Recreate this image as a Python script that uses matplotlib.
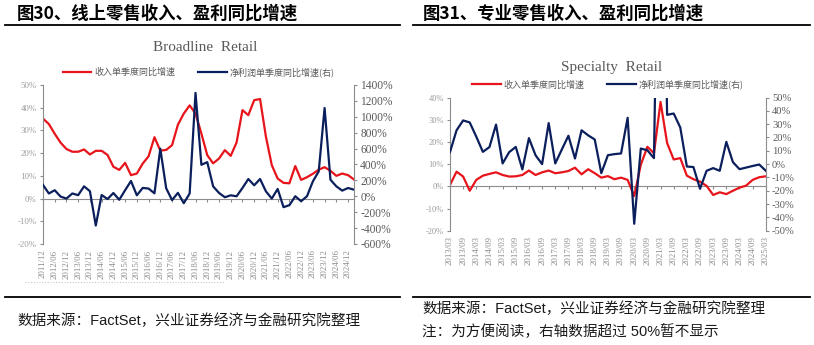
import numpy as np
import matplotlib.pyplot as plt
from matplotlib.lines import Line2D

plt.rcParams['font.family'] = ['Noto Sans CJK SC', 'DejaVu Sans']

# Broadline Retail, quarterly 2011/12 .. 2025/03 (%)
bl_rev = [35.2, 32.8, 28.5, 24.6, 21.8, 20.6, 20.6, 21.6, 19.4, 21.0,
          21.0, 19.2, 14.0, 12.6, 15.7, 10.3, 11.0, 15.4, 18.6, 27.0,
          21.1, 21.4, 23.5, 32.5, 37.4, 41.0, 37.4, 28.6, 19.1, 15.5,
          17.6, 21.3, 18.8, 24.7, 38.9, 36.7, 43.3, 43.8, 27.2, 14.7,
          8.8, 6.9, 6.7, 14.3, 8.2, 9.4, 10.9, 12.7, 13.8, 12.2,
          10.0, 11.0, 10.3, 8.4]
bl_profit = [143, 35, 76, -4, -29, 35, 14, 125, 64, -368,
             16, -35, 41, -44, 76, 192, 12, 105, 97, 37,
             598, 101, -48, 43, -87, 35, 1300, 396, 429, 125,
             42, -12, 12, 0, 104, 217, 138, 217, 62, -29,
             92, -137, -112, 0, -62, 0, 187, 313, 1110, 208,
             125, 71, 104, 83]
bl_labels = ['2011/12', '2012/06', '2012/12', '2013/06', '2013/12', '2014/06',
             '2014/12', '2015/06', '2015/12', '2016/06', '2016/12', '2017/06',
             '2017/12', '2018/06', '2018/12', '2019/06', '2019/12', '2020/06',
             '2020/12', '2021/06', '2021/12', '2022/06', '2022/12', '2023/06',
             '2023/12', '2024/06', '2024/12']

# Specialty Retail, quarterly 2013/03 .. 2025/03 (%)
sp_rev = [0.6, 6.6, 4.4, -2.0, 2.9, 4.8, 5.6, 6.3, 5.1, 4.4,
          4.5, 5.1, 7.1, 5.1, 6.3, 7.1, 5.9, 6.3, 6.9, 8.4,
          5.4, 7.7, 5.9, 3.9, 4.6, 3.2, 3.9, 2.9, -4.4, 9.7,
          17.8, 14.9, 38.0, 19.5, 12.1, 12.7, 4.8, 3.2, 2.1, 0.2,
          -3.9, -2.7, -3.5, -2.0, -0.6, 0.3, 2.9, 4.1, 4.5]
sp_profit = [9, 25.4, 32.8, 31.3, 20.6, 9.2, 12.8, 29.7, 0.5, 9,
             12.9, -4, 19.5, 6.7, 0, 30.8, 0.5, 11, 21.3, 4.2,
             25.4, 21.6, 18.5, -6.8, 6.7, 7.5, 8, 34.8, -44.8, 11.7,
             10.4, 4.5, 300, 37, 38, 27.5, -1.8, -2.2, -18.5, -5,
             -3, -5, 16.7, 1.5, -3.8, -2.6, -1.4, -0.3, -5]
sp_labels = ['2013/03', '2013/09', '2014/03', '2014/09', '2015/03', '2015/09',
             '2016/03', '2016/09', '2017/03', '2017/09', '2018/03', '2018/09',
             '2019/03', '2019/09', '2020/03', '2020/09', '2021/03', '2021/09',
             '2022/03', '2022/09', '2023/03', '2023/09', '2024/03', '2024/09',
             '2025/03']

RED = '#E8141B'
BLUE = '#0B1F5C'
AXIS = '#8C8C8C'
SERIF = 'Liberation Serif'
leg_labels = ['收入单季度同比增速', '净利润单季度同比增速(右)']


def draw(rect, rev, prof, labels, ylim, yticks, y2lim, y2ticks, lfs, rfs):
    ax = fig.add_axes(rect)
    ax2 = ax.twinx()
    x = np.arange(len(rev))
    l1, = ax.plot(x, rev, color=RED, lw=1.6)
    l2, = ax2.plot(x, prof, color=BLUE, lw=1.6)
    ax.set_xlim(0, len(rev) - 1)
    ax.set_ylim(*ylim)
    ax2.set_ylim(*y2lim)
    ax.set_yticks(yticks)
    ax.set_yticklabels([f'{v}%' for v in yticks], fontsize=lfs,
                       family=SERIF, color='#9A9A9A')
    ax2.set_yticks(y2ticks)
    ax2.set_yticklabels([f'{v}%' for v in y2ticks], fontsize=rfs,
                        family=SERIF, color='#5A5A5A')
    ax.set_xticks(x[::2][:len(labels)])
    ax.set_xticklabels(labels, rotation=90, fontsize=6.3, family=SERIF,
                       color='#8A8A8A')
    ax.tick_params(axis='x', length=0, pad=4)
    ax.tick_params(axis='y', length=2.5, color=AXIS, pad=2)
    ax2.tick_params(axis='y', length=2.5, color=AXIS, pad=2)
    for s in ['top', 'right', 'bottom']:
        ax.spines[s].set_visible(False)
    for s in ['top', 'left', 'bottom']:
        ax2.spines[s].set_visible(False)
    ax.spines['left'].set_color(AXIS)
    ax2.spines['right'].set_color(AXIS)
    # category axis crossing at 0
    sec = ax.secondary_xaxis(0, transform=ax.transData)
    sec.set_xticks(x[::2])
    sec.tick_params(axis='x', length=2.5, color=AXIS, labelbottom=False)
    sec.spines['bottom'].set_color(AXIS)
    ax.legend([l1, l2], leg_labels, ncol=2, loc='lower center',
              bbox_to_anchor=(0.5, 1.0), frameon=False, fontsize=6.5,
              labelcolor='#595959', handlelength=3.2, columnspacing=2.5,
              handletextpad=0.3, borderaxespad=0.5)
    return ax


fig = plt.figure(figsize=(8.14, 3.45), dpi=100)

# headings and rules
fig.text(0.021, 0.962, '图30、线上零售收入、盈利同比增速', fontsize=12.5,
         fontweight='bold', va='center', ha='left')
fig.text(0.519, 0.962, '图31、专业零售收入、盈利同比增速', fontsize=12.5,
         fontweight='bold', va='center', ha='left')
for x0, x1 in [(0.006, 0.492), (0.507, 0.995)]:
    fig.add_artist(Line2D([x0, x1], [0.927, 0.927], color='black', lw=1.3))
    fig.add_artist(Line2D([x0, x1], [0.139, 0.139], color='black', lw=1.3))
fig.add_artist(Line2D([0.031, 0.277], [0.183, 0.183], color='#C8C8C8',
                      lw=0.8, ls=(0, (1, 1.5))))

fig.text(0.252, 0.861, 'Broadline  Retail', fontsize=11, family=SERIF,
         color='#595959', ha='center', va='center')
fig.text(0.751, 0.803, 'Specialty  Retail', fontsize=11, family=SERIF,
         color='#595959', ha='center', va='center')

draw([0.0528, 0.2928, 0.382, 0.461], bl_rev, bl_profit, bl_labels,
     (-20, 50), list(range(-20, 51, 10)), (-600, 1400),
     list(range(-600, 1401, 200)), 6.3, 8.3)
draw([0.5528, 0.3313, 0.388, 0.386], sp_rev, sp_profit, sp_labels,
     (-20, 40), list(range(-20, 41, 10)), (-50, 50),
     list(range(-50, 51, 10)), 6.0, 7.6)

src = ['Liberation Sans', 'Noto Sans CJK SC']
fig.text(0.021, 0.070, '数据来源：FactSet，兴业证券经济与金融研究院整理',
         fontsize=10.5, family=src, va='center', color='#1A1A1A')
fig.text(0.519, 0.105, '数据来源：FactSet，兴业证券经济与金融研究院整理',
         fontsize=10.5, family=src, va='center', color='#1A1A1A')
fig.text(0.519, 0.041, '注：为方便阅读，右轴数据超过 50%暂不显示',
         fontsize=10.5, family=src, va='center', color='#1A1A1A')

fig.savefig('out.png', dpi=100)
